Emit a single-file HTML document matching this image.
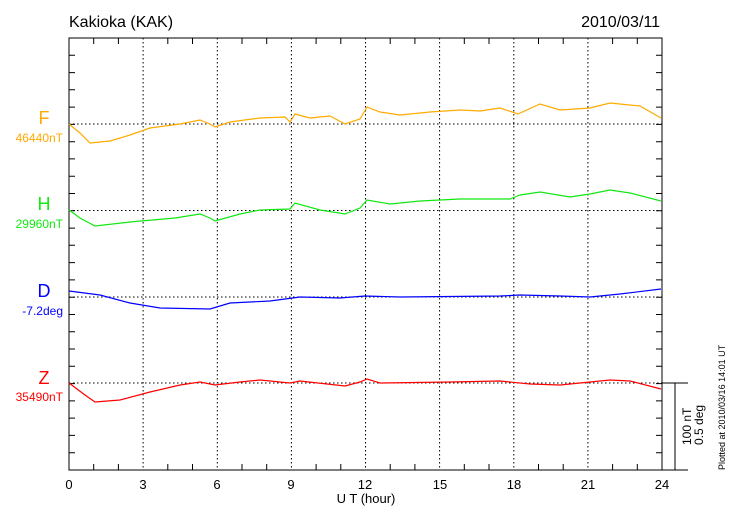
<!DOCTYPE html>
<html><head><style>body{margin:0;background:#fff}svg{display:block;font-family:"Liberation Sans",sans-serif}</style></head>
<body>
<svg width="730" height="520" viewBox="0 0 730 520">
<rect width="730" height="520" fill="#fff"/>
<text x="69" y="27" font-size="16">Kakioka (KAK)</text>
<text x="660" y="27" font-size="16" text-anchor="end">2010/03/11</text>
<g stroke="#000" stroke-width="1" stroke-dasharray="1.5,2.5" fill="none">
<line x1="143.1" y1="38" x2="143.1" y2="470"/><line x1="217.3" y1="38" x2="217.3" y2="470"/>
<line x1="291.4" y1="38" x2="291.4" y2="470"/><line x1="365.5" y1="38" x2="365.5" y2="470"/>
<line x1="439.6" y1="38" x2="439.6" y2="470"/><line x1="513.8" y1="38" x2="513.8" y2="470"/>
<line x1="587.9" y1="38" x2="587.9" y2="470"/>
<line x1="69" y1="124" x2="662" y2="124"/><line x1="69" y1="210.5" x2="662" y2="210.5"/>
<line x1="69" y1="297" x2="662" y2="297"/><line x1="69" y1="383" x2="662" y2="383"/>
</g>
<rect x="69" y="38" width="593" height="432" fill="none" stroke="#000"/>
<path stroke="#000" stroke-width="1" fill="none" d="
M93.7 470v-6M118.4 470v-6M167.8 470v-6M192.5 470v-6M242 470v-6M266.7 470v-6M316.1 470v-6M340.8 470v-6M390.2 470v-6M414.9 470v-6M464.3 470v-6M489 470v-6M538.5 470v-6M563.2 470v-6M612.6 470v-6M637.3 470v-6
M93.7 38v6M118.4 38v6M167.8 38v6M192.5 38v6M242 38v6M266.7 38v6M316.1 38v6M340.8 38v6M390.2 38v6M414.9 38v6M464.3 38v6M489 38v6M538.5 38v6M563.2 38v6M612.6 38v6M637.3 38v6
M69 55.3h6M69 72.6h6M69 89.8h6M69 107.1h6M69 124.4h6M69 141.7h6M69 158.9h6M69 176.2h6M69 193.5h6M69 210.8h6M69 228.1h6M69 245.3h6M69 262.6h6M69 279.9h6M69 297.2h6M69 314.5h6M69 331.7h6M69 349h6M69 366.3h6M69 383.6h6M69 400.9h6M69 418.1h6M69 435.4h6M69 452.7h6
M662 55.3h-6M662 72.6h-6M662 89.8h-6M662 107.1h-6M662 124.4h-6M662 141.7h-6M662 158.9h-6M662 176.2h-6M662 193.5h-6M662 210.8h-6M662 228.1h-6M662 245.3h-6M662 262.6h-6M662 279.9h-6M662 297.2h-6M662 314.5h-6M662 331.7h-6M662 349h-6M662 366.3h-6M662 383.6h-6M662 400.9h-6M662 418.1h-6M662 435.4h-6M662 452.7h-6"/>
<line x1="662" y1="383" x2="688" y2="383" stroke="#000"/>
<line x1="675" y1="383" x2="675" y2="470" stroke="#000"/>
<line x1="662" y1="470" x2="688" y2="470" stroke="#000"/>
<g fill="none" stroke-width="1.2">
<polyline stroke="#ffaa00" points="69,124 80,133 90,143 110,141 130,135 150,128 180,124 200,120 210,124 215,127 230,122 260,118 285,117 290,122 295,114 310,118 330,116 345,124 360,119 367,107 380,112 400,115 430,112 460,110 480,111 500,108 518,114 540,104 560,110 590,108 610,103 640,106 661,118"/>
<polyline stroke="#11e811" points="69,210 80,218 95,226 130,222 175,218 200,214 210,218 215,221 240,214 260,210 290,209 295,203 320,210 345,214 360,208 367,200 390,204 420,201 460,199 490,199 510,199 520,195 540,192 570,197 590,194 610,190 630,193 661,201"/>
<polyline stroke="#0000ff" points="69,291 100,295 130,303 160,308 210,309 230,303 270,301 300,297 340,298 365,296 400,297 500,296 520,295 560,296 590,297 620,294 661,289"/>
<polyline stroke="#ff0000" points="69,383 85,395 95,402 120,400 150,392 180,385 200,382 215,385 240,382 260,380 290,383 300,381 345,386 360,382 367,379 380,383 450,382 500,381 530,384 560,385 590,382 610,380 630,381 661,389"/>
</g>
<g font-size="18" text-anchor="middle">
<text x="44" y="124" fill="#ffaa00">F</text>
<text x="44" y="210" fill="#11e811">H</text>
<text x="44" y="297" fill="#0000ff">D</text>
<text x="44" y="384" fill="#ff0000">Z</text>
</g>
<g font-size="12" text-anchor="end">
<text x="63" y="142" fill="#ffaa00">46440nT</text>
<text x="63" y="228" fill="#11e811">29960nT</text>
<text x="63" y="315" fill="#0000ff">-7.2deg</text>
<text x="63" y="401" fill="#ff0000">35490nT</text>
</g>
<g font-size="13" text-anchor="middle">
<text x="69" y="489">0</text><text x="143" y="489">3</text><text x="217" y="489">6</text>
<text x="291" y="489">9</text><text x="365" y="489">12</text><text x="440" y="489">15</text>
<text x="514" y="489">18</text><text x="588" y="489">21</text><text x="662" y="489">24</text>
<text x="366" y="503">U T (hour)</text>
</g>
<text transform="translate(691,445) rotate(-90)" font-size="12">100 nT</text>
<text transform="translate(703,445) rotate(-90)" font-size="12">0.5 deg</text>
<text transform="translate(725,470) rotate(-90)" font-size="9">Plotted at 2010/03/16 14:01  UT</text>
</svg>
</body></html>
